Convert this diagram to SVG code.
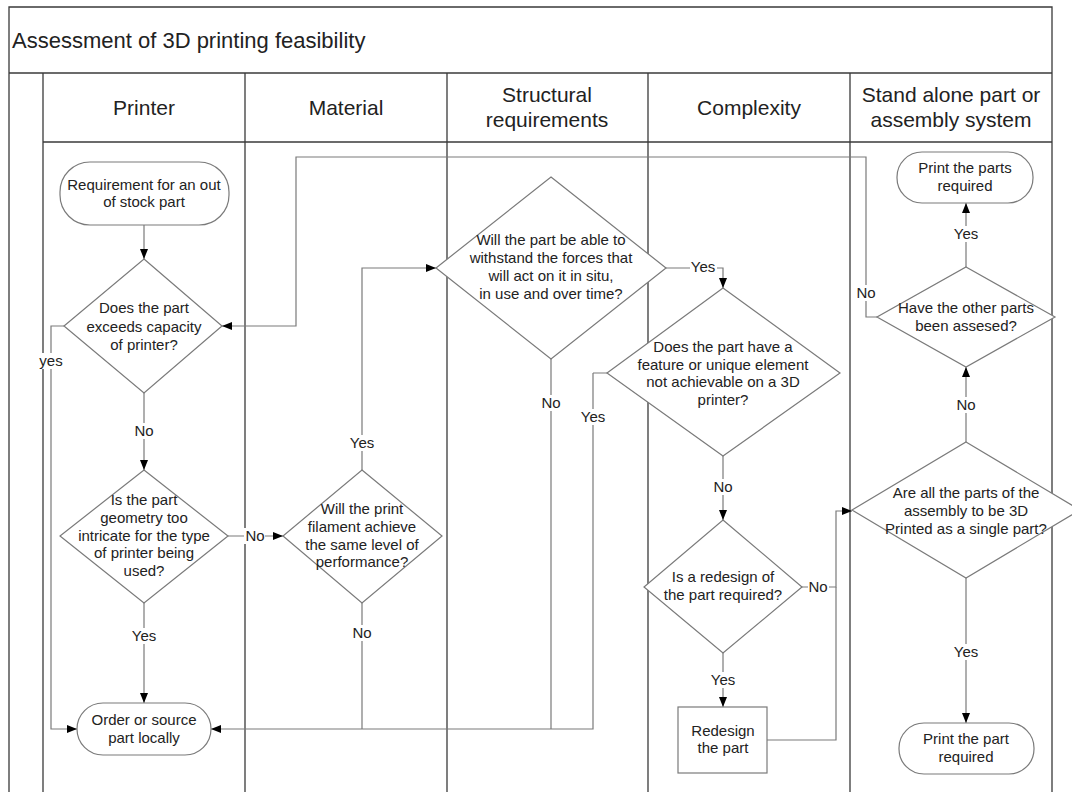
<svg xmlns="http://www.w3.org/2000/svg" width="1072" height="792" viewBox="0 0 1072 792">
<style>
  text { font-family: "Liberation Sans", Arial, sans-serif; fill: #222; }
  .title { font-size: 22px; }
  .hdr { font-size: 21px; text-anchor: middle; }
  .t { font-size: 15px; text-anchor: middle; }
  .lane { fill: none; stroke: #3a3a3a; stroke-width: 1.3; }
  .shape { fill: #fff; stroke: #7a7a7a; stroke-width: 1.2; }
  .conn { fill: none; stroke: #7a7a7a; stroke-width: 1.2; }
  .arr { marker-end: url(#arrow); }
  .lbg { fill: #fff; stroke: none; }
</style>
<defs>
  <marker id="arrow" viewBox="0 0 10 10" refX="10" refY="5" markerWidth="10" markerHeight="10" orient="auto" markerUnits="userSpaceOnUse">
    <path d="M0,1 L10,5 L0,9 z" fill="#000"/>
  </marker>
</defs>
<rect width="1072" height="792" fill="#fff"/>

<g id="frame">
  <path class="lane" d="M9,800 V7 H1052 V800"/>
  <line class="lane" x1="9" y1="73" x2="1052" y2="73" stroke-width="1.8"/>
  <line class="lane" x1="43" y1="142" x2="1052" y2="142"/>
  <line class="lane" x1="43" y1="73" x2="43" y2="800"/>
  <line class="lane" x1="245" y1="73" x2="245" y2="800"/>
  <line class="lane" x1="447" y1="73" x2="447" y2="800"/>
  <line class="lane" x1="648" y1="73" x2="648" y2="800"/>
  <line class="lane" x1="850" y1="73" x2="850" y2="800"/>
  <text class="title" x="12" y="48">Assessment of 3D printing feasibility</text>
  <text class="hdr" x="144" y="115">Printer</text>
  <text class="hdr" x="346" y="115">Material</text>
  <text class="hdr" x="547" y="102">Structural</text>
  <text class="hdr" x="547" y="127">requirements</text>
  <text class="hdr" x="749" y="115">Complexity</text>
  <text class="hdr" x="951" y="102">Stand alone part or</text>
  <text class="hdr" x="951" y="127">assembly system</text>
</g>

<g id="connectors">
  <path class="conn arr" d="M144,225 V259"/>
  <path class="conn arr" d="M144,393 V470"/>
  <path class="conn arr" d="M64,326 H51 V729 H77"/>
  <path class="conn arr" d="M144,603 V703"/>
  <path class="conn arr" d="M228,536 H283"/>
  <path class="conn arr" d="M362,470 V268 H436"/>
  <path class="conn arr" d="M593,373 H607 M362,603 V729 M551,359 V729 M593,373 V729 H211"/>
  <path class="conn arr" d="M666,268 H723 V288"/>
  <path class="conn arr" d="M723,456 V520"/>
  <path class="conn arr" d="M723,653 V707"/>
  <path class="conn" d="M767,740 H836 V587"/>
  <path class="conn arr" d="M802,587 H836 V511 H852"/>
  <path class="conn arr" d="M966,578 V723"/>
  <path class="conn arr" d="M966,442 V367"/>
  <path class="conn arr" d="M966,267 V203"/>
  <path class="conn arr" d="M877,317 H866 V157 H296 V326 H222"/>

  <g id="labels">
    <rect class="lbg" x="39" y="353" width="24" height="16"/><text class="t" x="51" y="366">yes</text>
    <rect class="lbg" x="134" y="423" width="21" height="16"/><text class="t" x="144" y="436">No</text>
    <rect class="lbg" x="244" y="528" width="21" height="16"/><text class="t" x="255" y="541">No</text>
    <rect class="lbg" x="131" y="628" width="27" height="16"/><text class="t" x="144" y="641">Yes</text>
    <rect class="lbg" x="349" y="435" width="27" height="16"/><text class="t" x="362" y="448">Yes</text>
    <rect class="lbg" x="352" y="625" width="21" height="16"/><text class="t" x="362" y="638">No</text>
    <rect class="lbg" x="541" y="395" width="21" height="16"/><text class="t" x="551" y="408">No</text>
    <rect class="lbg" x="580" y="409" width="27" height="16"/><text class="t" x="593" y="422">Yes</text>
    <rect class="lbg" x="690" y="259" width="27" height="16"/><text class="t" x="703" y="272">Yes</text>
    <rect class="lbg" x="713" y="479" width="21" height="16"/><text class="t" x="723" y="492">No</text>
    <rect class="lbg" x="808" y="579" width="21" height="16"/><text class="t" x="818" y="592">No</text>
    <rect class="lbg" x="710" y="672" width="27" height="16"/><text class="t" x="723" y="685">Yes</text>
    <rect class="lbg" x="856" y="285" width="21" height="16"/><text class="t" x="866" y="298">No</text>
    <rect class="lbg" x="953" y="226" width="27" height="16"/><text class="t" x="966" y="239">Yes</text>
    <rect class="lbg" x="956" y="397" width="21" height="16"/><text class="t" x="966" y="410">No</text>
    <rect class="lbg" x="953" y="644" width="27" height="16"/><text class="t" x="966" y="657">Yes</text>
  </g>
</g>

<g id="start">
  <rect class="shape" x="60" y="162" width="169" height="63" rx="30" ry="30"/>
  <text class="t" x="144" y="190">Requirement for an out</text>
  <text class="t" x="144" y="207">of stock part</text>
</g>

<g id="d-capacity">
  <polygon class="shape" points="144,259 222,326 144,393 64,326"/>
  <text class="t" x="144" y="313">Does the part</text>
  <text class="t" x="144" y="332">exceeds capacity</text>
  <text class="t" x="144" y="350">of printer?</text>
</g>

<g id="d-geometry">
  <polygon class="shape" points="144,470 228,536 144,603 60,536"/>
  <text class="t" x="144" y="505">Is the part</text>
  <text class="t" x="144" y="523">geometry too</text>
  <text class="t" x="144" y="541">intricate for the type</text>
  <text class="t" x="144" y="558">of printer being</text>
  <text class="t" x="144" y="576">used?</text>
</g>

<g id="order">
  <rect class="shape" x="77" y="703" width="134" height="52" rx="26" ry="26"/>
  <text class="t" x="144" y="725">Order or source</text>
  <text class="t" x="144" y="743">part locally</text>
</g>

<g id="d-filament">
  <polygon class="shape" points="362,470 442,536 362,603 283,536"/>
  <text class="t" x="362" y="514">Will the print</text>
  <text class="t" x="362" y="532">filament achieve</text>
  <text class="t" x="362" y="550">the same level of</text>
  <text class="t" x="362" y="567">performance?</text>
</g>

<g id="d-forces">
  <polygon class="shape" points="551,177 666,268 551,359 436,268"/>
  <text class="t" x="551" y="245">Will the part be able to</text>
  <text class="t" x="551" y="263">withstand the forces that</text>
  <text class="t" x="551" y="281">will act on it in situ,</text>
  <text class="t" x="551" y="299">in use and over time?</text>
</g>

<g id="d-feature">
  <polygon class="shape" points="723,288 840,373 723,456 607,373"/>
  <text class="t" x="723" y="352">Does the part have a</text>
  <text class="t" x="723" y="370">feature or unique element</text>
  <text class="t" x="723" y="387">not achievable on a 3D</text>
  <text class="t" x="723" y="405">printer?</text>
</g>

<g id="d-redesign">
  <polygon class="shape" points="723,520 802,587 723,653 644,587"/>
  <text class="t" x="723" y="582">Is a redesign of</text>
  <text class="t" x="723" y="600">the part required?</text>
</g>

<g id="redesign">
  <rect class="shape" x="678" y="707" width="89" height="66"/>
  <text class="t" x="723" y="736">Redesign</text>
  <text class="t" x="723" y="753">the part</text>
</g>

<g id="d-single">
  <polygon class="shape" points="966,442 1080,510 966,578 852,510"/>
  <text class="t" x="966" y="498">Are all the parts of the</text>
  <text class="t" x="966" y="516">assembly to be 3D</text>
  <text class="t" x="966" y="534">Printed as a single part?</text>
</g>

<g id="d-others">
  <polygon class="shape" points="966,267 1055,317 966,367 877,317"/>
  <text class="t" x="966" y="313">Have the other parts</text>
  <text class="t" x="966" y="331">been assesed?</text>
</g>

<g id="print-parts">
  <rect class="shape" x="897" y="152" width="136" height="51" rx="25" ry="25"/>
  <text class="t" x="965" y="173">Print the parts</text>
  <text class="t" x="965" y="191">required</text>
</g>

<g id="print-part">
  <rect class="shape" x="899" y="723" width="135" height="51" rx="25" ry="25"/>
  <text class="t" x="966" y="744">Print the part</text>
  <text class="t" x="966" y="762">required</text>
</g>
</svg>
